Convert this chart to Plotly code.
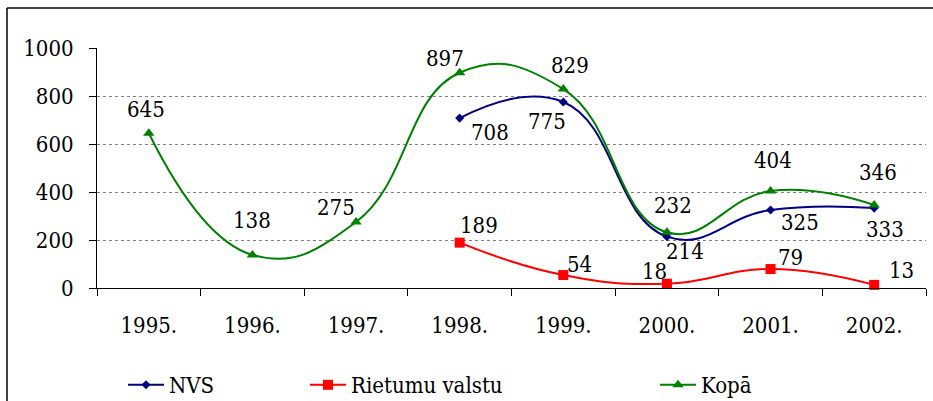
import plotly.graph_objects as go

years = ["1995.", "1996.", "1997.", "1998.", "1999.", "2000.", "2001.", "2002."]
nvs = [None, None, None, 708, 775, 214, 325, 333]
rietumu = [None, None, None, 189, 54, 18, 79, 13]
kopa = [645, 138, 275, 897, 829, 232, 404, 346]

# label pixel offsets (dx, dy) relative to the point; dy positive = up
nvs_off = [None, None, None, (30, -14), (-16, -19), (18, -15), (29, -12), (11, -21)]
riet_off = [None, None, None, (19, 17), (16, 11), (-12, 12), (20, 12), (27, 14)]
kopa_off = [(-3, 24), (0, 34), (-20, 15), (-15, 14), (7, 24), (6, 27), (2, 31), (4, 32)]

FONT = "DejaVu Serif Condensed, DejaVu Serif, serif"
FS = 22

# plot geometry in pixels
L, R, T, B = 97, 7, 48, 113
W, H = 933, 401
PW, PH = W - L - R, H - T - B

fig = go.Figure()
series = [
    ("NVS", nvs, "#000080", "diamond", 7, nvs_off, "legend"),
    ("Rietumu valstu", rietumu, "#FF0000", "square", 10, riet_off, "legend2"),
    ("Kopā", kopa, "#008000", "triangle-up", 10, kopa_off, "legend3"),
]
for name, vals, col, sym, ms, offs, lg in series:
    xs = [y for y, v in zip(years, vals) if v is not None]
    vs = [v for v in vals if v is not None]
    fig.add_trace(go.Scatter(
        x=xs, y=vs, name=name, mode="lines+markers",
        line=dict(color=col, width=2, shape="spline", smoothing=1.3),
        marker=dict(color=col, symbol=sym, size=ms, line=dict(width=0)),
        legend=lg, cliponaxis=False,
    ))
    for i, (v, off) in enumerate(zip(vals, offs)):
        if v is None:
            continue
        fig.add_annotation(x=i, y=v, xref="x", yref="y", text=str(v), showarrow=False,
                           xshift=off[0], yshift=off[1],
                           font=dict(family=FONT, size=FS, color="black"))

def px_x(p):
    return (p - L) / PW

def px_y(p):
    return (H - B - p) / PH

leg_common = dict(orientation="h", yanchor="middle", xanchor="left",
                  font=dict(family=FONT, size=FS, color="black"),
                  bgcolor="rgba(0,0,0,0)", borderwidth=0, itemwidth=36)

fig.update_layout(
    width=W, height=H,
    margin=dict(l=L, r=R, t=T, b=B, autoexpand=False),
    paper_bgcolor="white", plot_bgcolor="white",
    font=dict(family=FONT, size=FS, color="black"),
    showlegend=True,
    legend=dict(x=px_x(123), y=px_y(385), **leg_common),
    legend2=dict(x=px_x(305), y=px_y(385), **leg_common),
    legend3=dict(x=px_x(655), y=px_y(385), **leg_common),
    xaxis=dict(
        type="category", categoryorder="array", categoryarray=years,
        range=[-0.5, 7.5],
        showline=True, linecolor="black", linewidth=1,
        ticks="outside", ticklen=7, tickcolor="black", tickson="boundaries",
        showgrid=False, ticklabelstandoff=18,
        tickfont=dict(family=FONT, size=FS, color="black"),
    ),
    yaxis=dict(
        range=[0, 1000], tickvals=[0, 200, 400, 600, 800, 1000],
        showline=True, linecolor="black", linewidth=1,
        ticks="outside", ticklen=7, tickcolor="black",
        showgrid=True, gridcolor="#808080", griddash="dot", gridwidth=1,
        zeroline=False, ticklabelstandoff=11,
        tickfont=dict(family=FONT, size=FS, color="black"),
    ),
    shapes=[
        dict(type="line", xref="paper", yref="paper",
             x0=px_x(7), x1=px_x(7), y0=px_y(8), y1=px_y(420),
             line=dict(color="black", width=1.5)),
        dict(type="line", xref="paper", yref="paper",
             x0=px_x(7), x1=px_x(950), y0=px_y(8), y1=px_y(8),
             line=dict(color="black", width=1.5)),
    ],
)

fig.write_html("out.html", config={"displayModeBar": False},
               post_script="document.body.style.margin='0';document.body.style.overflow='hidden';")
